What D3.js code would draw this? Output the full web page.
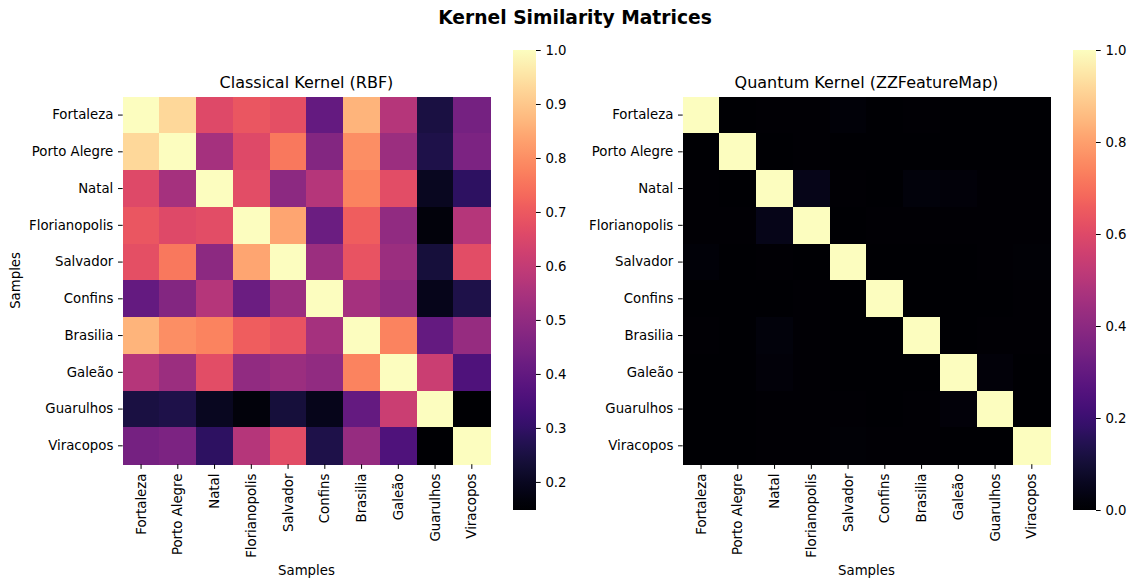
<!DOCTYPE html>
<html>
<head>
<meta charset="utf-8">
<script src="https://cdn.jsdelivr.net/npm/d3@7"></script>
<style>
    body { margin: 0; background: #fff; }
    svg text { font-family: "DejaVu Sans", sans-serif; fill: #000; }
</style>
</head>
<body>
<svg role="chart" width="1134" height="580"></svg>
<script>
// sample names (rows and columns of both matrices)
var samples = ['Fortaleza', 'Porto Alegre', 'Natal', 'Florianopolis', 'Salvador',
    'Confins', 'Brasilia', 'Galeão', 'Guarulhos', 'Viracopos'];

// classical RBF kernel
var classicalKernel = [
    [1.000, 0.932, 0.659, 0.693, 0.676, 0.404, 0.864, 0.574, 0.250, 0.438],
    [0.932, 1.000, 0.540, 0.660, 0.760, 0.470, 0.800, 0.520, 0.260, 0.455],
    [0.659, 0.540, 1.000, 0.670, 0.490, 0.574, 0.780, 0.670, 0.200, 0.293],
    [0.693, 0.660, 0.670, 1.000, 0.840, 0.420, 0.710, 0.500, 0.165, 0.574],
    [0.676, 0.760, 0.490, 0.840, 1.000, 0.520, 0.685, 0.520, 0.240, 0.670],
    [0.404, 0.470, 0.574, 0.420, 0.520, 1.000, 0.540, 0.500, 0.190, 0.260],
    [0.864, 0.800, 0.780, 0.710, 0.685, 0.540, 1.000, 0.780, 0.404, 0.510],
    [0.574, 0.520, 0.670, 0.500, 0.520, 0.500, 0.780, 1.000, 0.617, 0.360],
    [0.250, 0.260, 0.200, 0.165, 0.240, 0.190, 0.404, 0.617, 1.000, 0.148],
    [0.438, 0.455, 0.293, 0.574, 0.670, 0.260, 0.510, 0.360, 0.148, 1.000]
];

// quantum ZZFeatureMap kernel, nearly diagonal
var quantumKernel = [
    [1.000, 0.003, 0.005, 0.004, 0.015, 0.003, 0.004, 0.003, 0.002, 0.002],
    [0.003, 1.000, 0.003, 0.004, 0.002, 0.002, 0.002, 0.002, 0.002, 0.002],
    [0.005, 0.003, 1.000, 0.045, 0.004, 0.003, 0.020, 0.016, 0.004, 0.006],
    [0.004, 0.004, 0.045, 1.000, 0.003, 0.006, 0.004, 0.004, 0.005, 0.004],
    [0.015, 0.002, 0.004, 0.003, 1.000, 0.002, 0.003, 0.003, 0.004, 0.010],
    [0.003, 0.002, 0.003, 0.006, 0.002, 1.000, 0.002, 0.002, 0.002, 0.006],
    [0.004, 0.002, 0.020, 0.004, 0.003, 0.002, 1.000, 0.003, 0.006, 0.004],
    [0.003, 0.002, 0.016, 0.004, 0.003, 0.002, 0.003, 1.000, 0.016, 0.003],
    [0.002, 0.002, 0.004, 0.005, 0.004, 0.002, 0.006, 0.016, 1.000, 0.000],
    [0.002, 0.002, 0.006, 0.004, 0.010, 0.006, 0.004, 0.003, 0.000, 1.000]
];

var classicalTicks = [0.2, 0.3, 0.4, 0.5, 0.6, 0.7, 0.8, 0.9, 1.0];
var quantumTicks = [0.0, 0.2, 0.4, 0.6, 0.8, 1.0];

// overall configuration
var tickSize = 4.7,
    tickPad = 4.7,
    fontTick = '13.3px',
    mapSize = 367.5,
    mapTop = 96.7,
    barTop = 50,
    barBottom = 510,
    barWidth = 23;

var svg = d3.select('[role="chart"]');

// magma gradient for the colorbars
var grad = svg.append('defs').append('linearGradient')
    .attr('id', 'magma')
    .attr('x1', 0).attr('y1', 1).attr('x2', 0).attr('y2', 0);
grad.selectAll('stop')
    .data(d3.range(0, 1.0001, 0.02))
    .enter()
    .append('stop')
    .attr('offset', function (d) { return d; })
    .attr('stop-color', function (d) { return d3.interpolateMagma(d); });

function drawHeatmap(matrix, left, barLeft, title, ticks, showYLabel) {
    var flat = d3.merge(matrix);
    var color = d3.scaleSequential(d3.interpolateMagma)
        .domain(d3.extent(flat));

    var x = d3.scaleBand().domain(samples).range([left, left + mapSize]);
    var y = d3.scaleBand().domain(samples).range([mapTop, mapTop + mapSize]);

    // cells, one group per row
    var rows = svg.append('g')
        .attr('shape-rendering', 'crispEdges')
        .selectAll('g')
        .data(matrix)
        .enter()
        .append('g');

    rows.selectAll('rect')
        .data(function (d, i) {
            return d.map(function (v, j) { return {row: i, col: j, value: v}; });
        })
        .enter()
        .append('rect')
        .attr('x', function (d) { return x(samples[d.col]); })
        .attr('y', function (d) { return y(samples[d.row]); })
        .attr('width', x.bandwidth() + 0.5)
        .attr('height', y.bandwidth() + 0.5)
        .attr('fill', function (d) { return color(d.value); });

    // y axis
    var yAxis = svg.append('g')
        .attr('transform', 'translate(' + left + ',0)')
        .call(d3.axisLeft(y).tickSize(tickSize).tickPadding(tickPad));
    yAxis.select('.domain').remove();
    yAxis.selectAll('text').style('font-size', fontTick);

    // x axis with vertical labels
    var xAxis = svg.append('g')
        .attr('transform', 'translate(0,' + (mapTop + mapSize) + ')')
        .call(d3.axisBottom(x).tickSize(tickSize).tickPadding(tickPad));
    xAxis.select('.domain').remove();
    xAxis.selectAll('text')
        .style('font-size', fontTick)
        .attr('transform', 'rotate(-90)')
        .attr('x', -(tickSize + tickPad))
        .attr('y', 0)
        .attr('dy', '0.35em')
        .attr('text-anchor', 'end');

    svg.append('text')
        .attr('x', left + mapSize / 2)
        .attr('y', 575)
        .attr('text-anchor', 'middle')
        .style('font-size', fontTick)
        .text('Samples');

    if (showYLabel) {
        svg.append('text')
            .attr('transform', 'translate(20,' + (mapTop + mapSize / 2) + ') rotate(-90)')
            .attr('text-anchor', 'middle')
            .style('font-size', fontTick)
            .text('Samples');
    }

    // panel title
    svg.append('text')
        .attr('x', left + mapSize / 2)
        .attr('y', 88)
        .attr('text-anchor', 'middle')
        .style('font-size', '16px')
        .text(title);

    // colorbar
    svg.append('rect')
        .attr('x', barLeft)
        .attr('y', barTop)
        .attr('width', barWidth)
        .attr('height', barBottom - barTop)
        .attr('fill', 'url(#magma)');

    var barScale = d3.scaleLinear()
        .domain(color.domain())
        .range([barBottom, barTop]);
    var barAxis = svg.append('g')
        .attr('transform', 'translate(' + (barLeft + barWidth) + ',0)')
        .call(d3.axisRight(barScale)
            .tickValues(ticks)
            .tickFormat(d3.format('.1f'))
            .tickSize(tickSize)
            .tickPadding(tickPad));
    barAxis.select('.domain').remove();
    barAxis.selectAll('text').style('font-size', fontTick);
}

drawHeatmap(classicalKernel, 122.7, 513, 'Classical Kernel (RBF)', classicalTicks, true);
drawHeatmap(quantumKernel, 682.7, 1073, 'Quantum Kernel (ZZFeatureMap)', quantumTicks, false);

// figure title
svg.append('text')
    .attr('x', 575)
    .attr('y', 24.3)
    .attr('text-anchor', 'middle')
    .style('font-size', '18.7px')
    .style('font-weight', 'bold')
    .text('Kernel Similarity Matrices');
</script>
</body>
</html>
